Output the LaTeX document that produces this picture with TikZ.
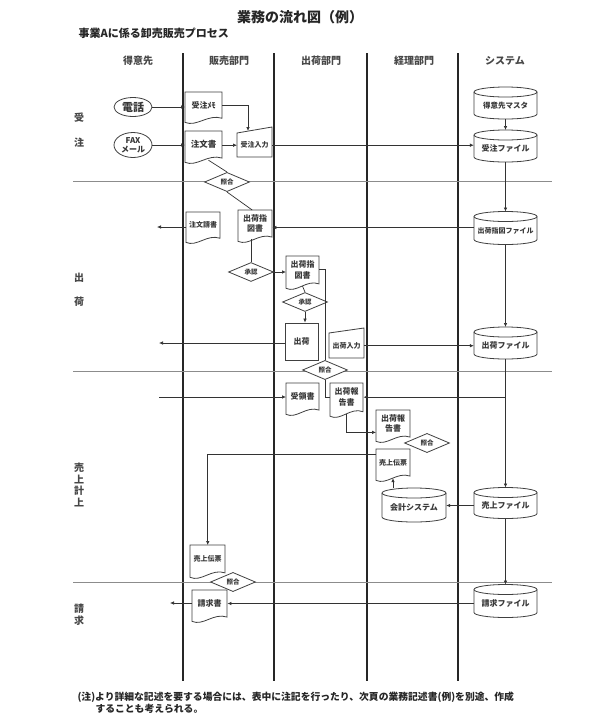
\documentclass[tikz,border=0pt]{standalone}
\usepackage{fontspec}
\setmainfont{Noto Sans CJK JP}
\usetikzlibrary{arrows.meta,shapes.geometric,calc}

\tikzset{
  lane/.style={line width=1.2pt, draw=black!85},
  sepline/.style={line width=0.9pt, draw=black!45},
  con/.style={line width=0.7pt, draw=black!80},
  arr/.style={con, -{Latex[length=4pt,width=3.6pt]}},
  shp/.style={line width=0.8pt, draw=black!75},
  box/.style={inner sep=0pt, align=center, text=black!78},
  fs65/.style={font=\fontsize{6.5}{8}\selectfont\bfseries},
  fs7/.style={font=\fontsize{7}{9}\selectfont\bfseries},
  fs75/.style={font=\fontsize{7.5}{9.5}\selectfont\bfseries},
  fs8/.style={font=\fontsize{8}{10.5}\selectfont\bfseries},
  fs85/.style={font=\fontsize{8.5}{10.5}\selectfont\bfseries},
  dia/.style={diamond, shp, fill=white, minimum width=45pt, minimum height=16pt, inner sep=0pt, text=black!78, font=\fontsize{6.5}{7}\selectfont\bfseries},
  oval/.style={ellipse, shp, fill=white, inner sep=0pt, align=center, text=black!78},
  procbox/.style={rectangle, shp, fill=white, inner sep=0pt, text=black!78},
  hdr/.style={font=\fontsize{10}{12}\selectfont\bfseries, text=black!72},
  rowl/.style={font=\fontsize{10}{12}\selectfont\bfseries, text=black!72, align=center},
}

% document: [style]{name}{x1}{y1}{w}{h}{text}
\newcommand\docnode[7][fs8]{%
  \filldraw[shp,fill=white] (#3,#4) -- (#3+#5,#4) -- (#3+#5,#4+0.82*#6)
    .. controls (#3+0.62*#5,#4+0.68*#6) and (#3+0.32*#5,#4+1.1*#6) .. (#3,#4+0.95*#6) -- cycle;
  \node[box,#1,minimum width=#5pt,minimum height=0.8*#6pt,anchor=north west] (#2) at (#3,#4) {#7};
  \coordinate (#2b) at (#3+0.5*#5,#4+0.885*#6);
}
% manual input: [style]{name}{x1}{ytopleft}{w}{h}{slant}{text}
\newcommand\mannode[8][fs7]{%
  \filldraw[shp,fill=white] (#3,#4) -- (#3+#5,#4-#7) -- (#3+#5,#4+#6) -- (#3,#4+#6) -- cycle;
  \node[box,#1,minimum width=#5pt,minimum height=#6pt,anchor=north west] (#2) at (#3,#4) {#8};
}
% cylinder: [style]{name}{cx}{cy}{w}{h}{text}
\newcommand\cylnode[7][fs8]{%
  \filldraw[shp,fill=white] (#3-#5/2,#4-#6/2+5) -- (#3-#5/2,#4+#6/2-5)
    arc[start angle=180,end angle=360,x radius=#5*0.5pt,y radius=5pt]
    -- (#3+#5/2,#4-#6/2+5)
    arc[start angle=0,end angle=180,x radius=#5*0.5pt,y radius=5pt] -- cycle;
  \draw[shp] (#3-#5/2,#4-#6/2+5) arc[start angle=180,end angle=360,x radius=#5*0.5pt,y radius=5pt];
  \node[box,#1,minimum width=#5pt,minimum height=#6pt-5pt] (#2) at (#3,#4+2.5) {#7};
  \coordinate (#2t) at (#3,#4-#6/2);
}

\begin{document}
\begin{tikzpicture}[x=1pt,y=-1pt]
\useasboundingbox (0,0) rectangle (598,723);
\fill[white] (0,0) rectangle (598,723);

% titles
\node[font=\fontsize{14}{16}\selectfont\bfseries, text=black!85] (title) at (300,17) {業務の流れ図（例）};
\node[anchor=west, font=\fontsize{11}{13}\selectfont\bfseries, text=black!85] (sub) at (75,33) {事業Aに係る卸売販売プロセス};

% headers
\node[hdr] (h1) at (138,61) {得意先};
\node[hdr] (h2) at (229,61) {販売部門};
\node[hdr] (h3) at (321,61) {出荷部門};
\node[hdr] (h4) at (414,61) {経理部門};
\node[hdr] (h5) at (505,61) {システム};

% lanes and separators
\foreach \x in {183,274,367,458} \draw[lane] (\x,53) -- (\x,681);
\foreach \y in {181,371,582} \draw[sepline] (73,\y) -- (552,\y);

% row labels
\node[rowl] (ra1) at (79,118) {受};
\node[rowl] (ra2) at (79,143) {注};
\node[rowl] (rb1) at (79,278) {出};
\node[rowl] (rb2) at (79,302) {荷};
\node[rowl, font=\fontsize{10}{11.7}\selectfont\bfseries] (rc) at (79,485) {売\\上\\計\\上};
\node[rowl, font=\fontsize{10}{12}\selectfont\bfseries] (rd) at (79,615) {請\\求};

% --- receiving orders
\node[oval, minimum width=38pt, minimum height=19pt, font=\fontsize{11}{12}\selectfont\bfseries] (tel) at (133,107) {電話};
\node[oval, minimum width=38pt, minimum height=25pt, font=\fontsize{8}{9}\selectfont\bfseries] (fax) at (133,145) {FAX\\メール};
\docnode[fs8]{memo}{185}{92}{37}{32}{受注ﾒﾓ}
\docnode[fs85]{chu}{185}{131}{37}{33}{注文書}
\mannode[fs7]{jin}{237}{133}{35}{24}{6}{受注入力}
\cylnode[fs75]{master}{505.5}{103}{63}{32}{得意先マスタ}
\cylnode[fs8]{jfile}{505.5}{146}{63}{32}{受注ファイル}
\node[dia] (d1) at (227,182) {照合};

% --- shipping
\docnode[fs7]{chuuke}{186}{212}{34}{32}{注文請書}
\docnode[fs8]{shi1}{238}{210}{34}{33}{出荷指\\図書}
\cylnode[fs7]{shfile}{505.5}{228}{63}{33}{出荷指図ファイル}
\node[dia] (s1) at (251,272) {承認};
\docnode[fs8]{shi2}{286}{256}{33}{34}{出荷指\\図書}
\node[dia] (s2) at (305,302) {承認};
\node[procbox, minimum width=33pt, minimum height=37pt, font=\fontsize{8}{9}\selectfont\bfseries] (ship) at (301.5,341.5) {出荷};
\mannode[fs7]{shin}{329}{333}{35}{25}{5}{出荷入力}
\cylnode[fs8]{sfile}{505.5}{343}{63}{32}{出荷ファイル}
\node[dia] (d2) at (325,370) {照合};
\docnode[fs8]{recv}{286}{383}{33}{33}{受領書}
\docnode[fs8]{rep1}{330}{383}{33}{35}{出荷報\\告書}

% --- sales
\docnode[fs8]{rep2}{376}{410}{34}{33}{出荷報\\告書}
\node[dia] (d3) at (427,443) {照合};
\docnode[fs7]{uri2}{376}{449}{34}{33}{売上伝票}
\cylnode[fs8]{kaikei}{414}{505}{64}{34}{会計システム}
\cylnode[fs8]{urifile}{505.5}{503}{63}{31}{売上ファイル}
\docnode[fs7]{uri1}{190}{545}{35}{34}{売上伝票}

% --- billing
\node[dia] (d4) at (233,582) {照合};
\docnode[fs8]{seikyu}{192}{590}{35}{33}{請求書}
\cylnode[fs8]{seifile}{505.5}{601}{63}{33}{請求ファイル}

% free ends
\coordinate (memoj) at (248,131);
\coordinate (chuout) at (157,227);
\coordinate (shipout) at (159,343);
\coordinate (recvin) at (159,397);
\coordinate (seiout) at (170,603);

% connectors
\draw[arr] (tel.east) -- (tel.east -| memo.west);
\draw[arr] (fax.east) -- (fax.east -| chu.west);
\draw[arr] (chu.east |- jin.west) -- (jin.west);
\draw[arr] (memo.east) -| (memoj);
\draw[arr] (jin.east) -- (jin.east -| jfile.west);
\draw[arr] (master.south) -- (jfilet);
\draw[con] ([xshift=5pt]chub) -- (d1.north);
\draw[con] (d1.south) -- ([xshift=-3pt]shi1.north);
\draw[arr] (chuuke.west |- chuout) -- (chuout);
\draw[arr] ([yshift=3pt]shfile.west) -- ([yshift=3pt]shfile.west -| shi1.east);
\draw[arr] (jfile.south) -- (shfilet);
\draw[con] (shi1b -| s1.north) -- (s1.north);
\draw[arr] (s1.east) -- (s1.east -| shi2.west);
\draw[con] (shi2b) -- (s2.north);
\draw[arr] (s2.south) -- (s2.south |- ship.north);
\draw[arr] (ship.west |- shipout) -- (shipout);
\draw[con] (shi2.east) -| (d2.north);
\draw[con] (d2.south) |- (rep1.west);
\draw[arr] (shin.east) -- (shin.east -| sfile.west);
\draw[arr] (shfile.south) -- (sfilet);
\draw[arr] (recvin) -- (recvin -| recv.west);
\draw[arr] (sfile.south) -- (urifilet);
\draw[arr] (sfile.south |- rep1.east) -- (rep1.east);
\draw[arr] (rep1b) |- ([yshift=-9pt]rep2.west);
\draw[arr] ([yshift=8pt]uri2.west) -| (uri1.north);
\draw[arr] (kaikeit -| uri2b) -- (uri2b);
\draw[arr] (urifile.west) -- (urifile.west -| kaikei.east);
\draw[arr] (urifile.south) -- (seifilet);
\draw[arr] (seifile.west) -- (seifile.west -| seikyu.east);
\draw[arr] (seikyu.west |- seiout) -- (seiout);

% note
\node[anchor=west, font=\fontsize{9.8}{12}\selectfont\bfseries, text=black!85] (note1) at (74,697) {(注)より詳細な記述を要する場合には、表中に注記を行ったり、次頁の業務記述書(例)を別途、作成};
\node[anchor=west, font=\fontsize{9.8}{12}\selectfont\bfseries, text=black!85] (note2) at (92,709) {することも考えられる。};
\end{tikzpicture}
\end{document}
